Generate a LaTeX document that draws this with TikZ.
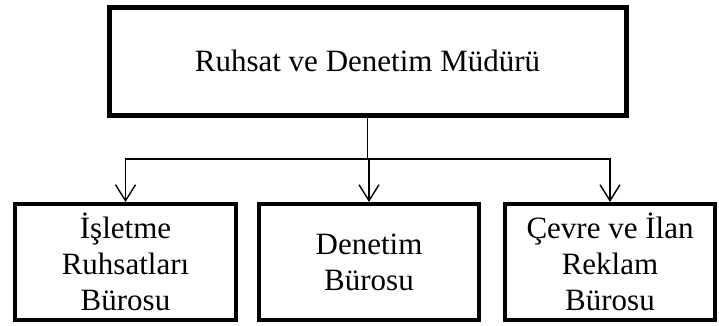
\documentclass[tikz,border=0pt]{standalone}
\usepackage{fontspec}
\setmainfont{Liberation Serif}
\usetikzlibrary{positioning}
\usetikzlibrary{arrows.meta}
\usetikzlibrary{calc}
\tikzstyle{unit}=[rectangle,draw=black,line width=4pt,align=center,inner sep=0pt,font=\fontsize{31}{36}\selectfont]
\tikzstyle{topunit}=[unit,line width=5pt]
\tikzstyle{link}=[draw,line width=1.4pt,-{Straight Barb[length=16pt,width=20pt]}]

\begin{document}
\begin{tikzpicture}[x=1pt,y=-1pt]

  \useasboundingbox (0,0) rectangle (719,325);

  \def\boxh{116}
  \def\yb{262}

   \node[topunit, minimum width=517pt, minimum height=108pt] (head) at (367.5, 61) {Ruhsat ve Denetim Müdürü};

   \node[unit, minimum width=221pt, minimum height=\boxh pt] (isl) at (125.5, \yb) {İşletme\\Ruhsatları\\Bürosu};
   \node[unit, minimum width=220pt, minimum height=\boxh pt] (den) at (369, \yb) {Denetim\\Bürosu};
   \node[unit, minimum width=210pt, minimum height=\boxh pt] (cev) at (610, \yb) {Çevre ve İlan\\Reklam\\Bürosu};

   \coordinate (bus) at (367.5, 159);
   \draw[line width=1.4pt] (head.south) -- (bus);

  \foreach \dest in {isl, den, cev}
         \draw[link] (bus) -| (\dest.north);

\end{tikzpicture}
\end{document}
